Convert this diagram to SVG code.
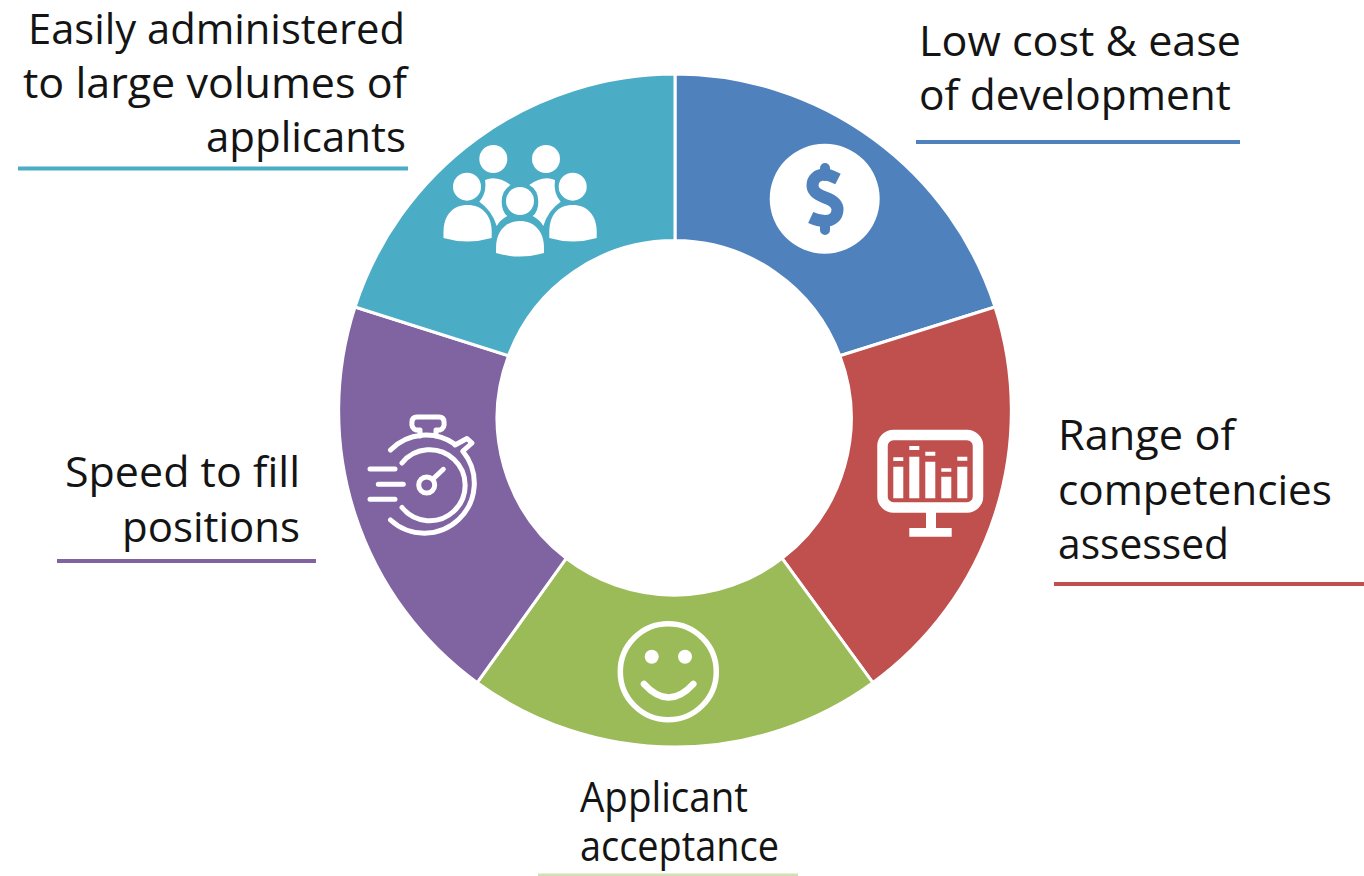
<svg xmlns="http://www.w3.org/2000/svg" width="1364" height="876" viewBox="0 0 1364 876">
<style>
.t{font-family:"Open Sans","Noto Sans","Liberation Sans",sans-serif;font-size:42px;fill:#141414}
.e{text-anchor:end}
.seg{stroke:#fff;stroke-width:3}
.w{fill:#fff}
.l{fill:none;stroke:#fff;stroke-linecap:round;stroke-linejoin:round}
.u{fill:none;stroke-width:4}
</style>
<rect width="1364" height="876" fill="#fff"/>
<g id="connectors">
<path class="u" stroke="#4bacc6" d="M18 168.500H408"/>
<path class="u" stroke="#4f81bd" d="M916 142H1240"/>
<path class="u" stroke="#c0504d" d="M1054 584H1364"/>
<path class="u" stroke="#8064a2" d="M57 561H316"/>
<path class="u" stroke="#d3dfb5" d="M538 875.500H798"/>
</g>
<g id="node-cost">
<path class="seg" fill="#4f81bd" d="M675 74A336.500 336.500 0 0 1 995 307L839.900 355.700A177 177 0 0 0 675 240.500Z"/>
<circle class="w" cx="824.700" cy="198.700" r="55"/>
<path fill="none" stroke="#4f81bd" stroke-width="12" d="M838 179C832 176 829 174.500 825 174.500C817 174.500 812.500 179 812.500 185.500C812.500 192 818 195 825 197.500C832 200 837.500 203 837.500 209.500C837.500 216.500 832 221 825 221C820 221 815 219.500 810.700 217.500"/>
<path fill="none" stroke="#4f81bd" stroke-width="10" stroke-linecap="round" d="M825 168V176M825 220V230"/>
<text class="t" x="919" y="56" textLength="322" lengthAdjust="spacingAndGlyphs">Low cost &amp; ease</text>
<text class="t" x="919" y="110" textLength="312" lengthAdjust="spacingAndGlyphs">of development</text>
</g>
<g id="node-range">
<path class="seg" fill="#c0504d" d="M995 307A336.500 336.500 0 0 1 872.800 682.700L782.100 558.400A177 177 0 0 0 839.900 355.700Z"/>
<rect x="882.500" y="435" width="95.500" height="72.500" rx="11" fill="none" stroke="#fff" stroke-width="10.500"/>
<path class="w" d="M926 511H936V528H951.700V536.700H909.300V528H926Z"/>
<path class="w" d="M893.300 466.700h10v31.600h-10zM909.300 456.700h10v41.600h-10zM925.300 461.700h10v36.600h-10zM941.300 476.700h10v21.600h-10zM957.300 466.700h10v31.600h-10zM893.300 457.300h10v3.700h-10zM909.300 446h10v4h-10zM925.300 451.700h10v4h-10zM941.300 468.300h10v3.500h-10zM957.300 456.700h10v4h-10z"/>
<text class="t" x="1058" y="450" textLength="177" lengthAdjust="spacingAndGlyphs">Range of</text>
<text class="t" x="1058" y="505" textLength="274" lengthAdjust="spacingAndGlyphs">competencies</text>
<text class="t" x="1058" y="559" textLength="171" lengthAdjust="spacingAndGlyphs">assessed</text>
</g>
<g id="node-acceptance">
<path class="seg" fill="#9bbb59" d="M872.800 682.700A336.500 336.500 0 0 1 477.200 682.700L566.200 558.400A177 177 0 0 0 782.100 558.400Z"/>
<circle class="l" cx="668.300" cy="671.700" r="48" stroke-width="5.500"/>
<circle class="w" cx="651.700" cy="656.700" r="7"/>
<circle class="w" cx="685" cy="656.700" r="7"/>
<path class="l" stroke-width="6.500" d="M644 684Q668.700 711 693.300 684"/>
<text class="t" x="580" y="812" textLength="168" lengthAdjust="spacingAndGlyphs">Applicant</text>
<text class="t" x="580" y="861" textLength="199" lengthAdjust="spacingAndGlyphs">acceptance</text>
</g>
<g id="node-speed">
<path class="seg" fill="#8064a2" d="M477.200 682.700A336.500 336.500 0 0 1 355 307L508.500 355.700A177 177 0 0 0 566.200 558.400Z"/>
<g class="l" stroke-width="5">
<path d="M390.500 450A50 50 0 0 1 455 444.300M463 451.500A50 50 0 0 1 390.500 520"/>
<path d="M402 463A35.500 35.500 0 1 1 402 507.500"/>
<path d="M420 436V430H416Q411 428 412 422Q412 417 417 417H439Q444 417 444 422Q445 428 440 430H436V436"/>
<path d="M455 445L467 438.500L472 443L463 451"/>
<path d="M370 469H395M378.300 484.300H403.300M370 499.300H395"/>
<circle cx="426.700" cy="485" r="8"/>
<path d="M433 479L443.300 469.300"/>
</g>
<text class="t e" x="300" y="487" textLength="235" lengthAdjust="spacingAndGlyphs">Speed to fill</text>
<text class="t e" x="300" y="542" textLength="178" lengthAdjust="spacingAndGlyphs">positions</text>
</g>
<g id="node-volume">
<path class="seg" fill="#4bacc6" d="M355 307A336.500 336.500 0 0 1 675 74V240.500A177 177 0 0 0 508.500 355.700Z"/>
<g class="w">
<circle cx="493.300" cy="159" r="14"/>
<circle cx="546" cy="159" r="14"/>
<circle cx="467" cy="186.700" r="14"/>
<circle cx="572.700" cy="186.700" r="14"/>
<circle cx="520" cy="201" r="14"/>
<path d="M443.500 238V232C443.500 215 453 205 467.500 205C482 205 491.700 215 491.700 232V238Q467 245 443.500 238Z"/>
<path d="M496 253V248C496 231 506 221 520 221C534 221 544 231 544 248V253Q520 260 496 253Z"/>
<path d="M549.300 238V232C549.300 215 558 205 572.700 205C587 205 596.700 215 596.700 232V238Q573 245 549.300 238Z"/>
<path d="M485 180Q497 175 510.700 185Q501.700 190 501.700 201.700Q501.700 211.700 507.300 216Q500 220 496.700 226Q491.700 210 479.300 201.700Q487 193 485 180Z"/>
<path d="M555 180Q543 175 529.300 185Q538.300 190 538.300 201.700Q538.300 211.700 532.700 216Q540 220 543.300 226Q548.300 210 560.700 201.700Q553 193 555 180Z"/>
</g>
<text class="t e" x="405" y="44" textLength="377" lengthAdjust="spacingAndGlyphs">Easily administered</text>
<text class="t e" x="407" y="98" textLength="384" lengthAdjust="spacingAndGlyphs">to large volumes of</text>
<text class="t e" x="406" y="152" textLength="200" lengthAdjust="spacingAndGlyphs">applicants</text>
</g>
</svg>
